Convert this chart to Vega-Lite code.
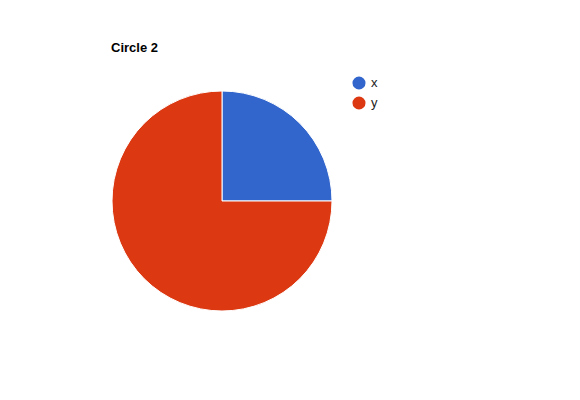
{
  "$schema": "https://vega.github.io/schema/vega-lite/v6.json",
  "autosize": "none",
  "width": 444,
  "height": 280,
  "padding": {"top": 61, "left": 0, "right": 136, "bottom": 59},
  "background": "white",
  "config": {"view": {"stroke": null}},
  "title": {
    "text": "Circle 2",
    "anchor": "start",
    "dx": 111,
    "offset": 6,
    "font": "Liberation Sans",
    "fontSize": 13,
    "fontWeight": "bold",
    "color": "#000000"
  },
  "data": {"values": [
    {"category": "x", "value": 25},
    {"category": "y", "value": 75}
  ]},
  "mark": {"type": "arc", "outerRadius": 110, "stroke": "white", "strokeWidth": 1},
  "encoding": {
    "theta": {"field": "value", "type": "quantitative", "stack": true},
    "order": {"field": "category"},
    "color": {
      "field": "category",
      "type": "nominal",
      "scale": {"domain": ["x", "y"], "range": ["#3366cc", "#dc3912"]},
      "legend": {
        "title": null,
        "orient": "none",
        "legendX": 352,
        "legendY": 15,
        "symbolType": "circle",
        "symbolSize": 170,
        "symbolStrokeWidth": 0,
        "labelFont": "Liberation Sans",
        "labelFontSize": 13,
        "labelColor": "#222222",
        "rowPadding": 6,
        "labelOffset": 5
      }
    }
  }
}
